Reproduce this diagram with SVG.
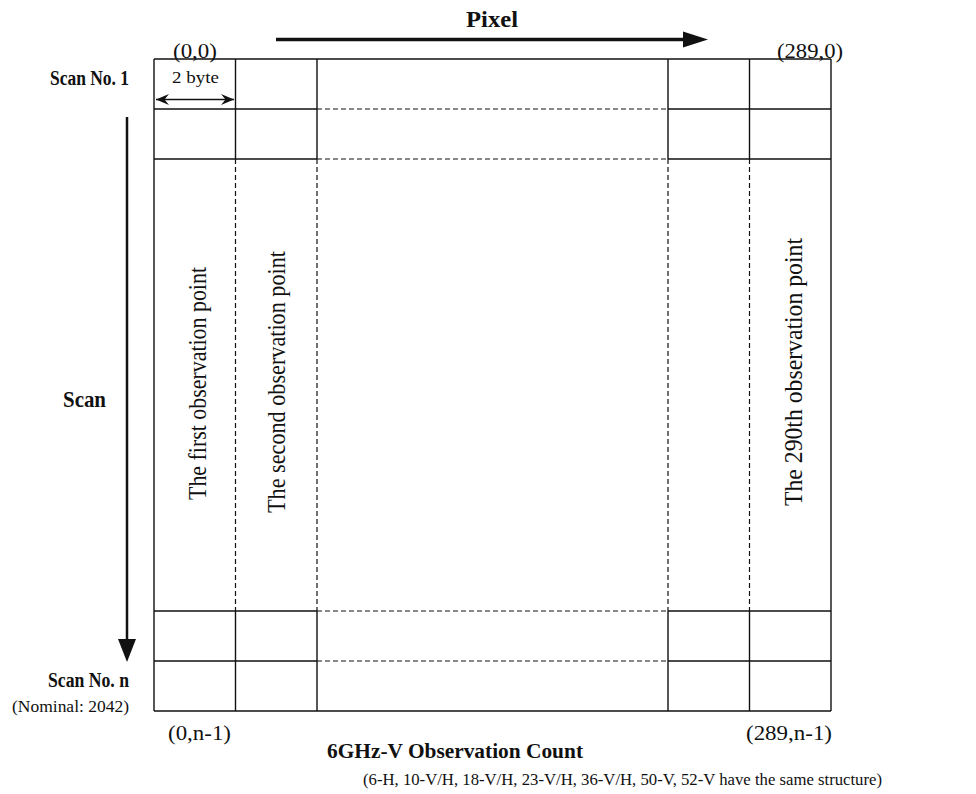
<svg xmlns="http://www.w3.org/2000/svg" width="976" height="794" viewBox="0 0 976 794">
<style>
.s{stroke:#111;stroke-width:1.4;fill:none}
.d{stroke:#111;stroke-width:1.2;fill:none;stroke-dasharray:5 3}
.t{font-family:"Liberation Serif","Times New Roman",serif;fill:#111}
.b{font-weight:bold}
</style>
<defs>
<marker id="barb" viewBox="-14 -6 15 12" refX="0" refY="0" markerWidth="15" markerHeight="12" markerUnits="userSpaceOnUse" orient="auto-start-reverse">
<path d="M0,0 L-13,-5.5 L-8.5,0 L-13,5.5 Z" fill="#111"/>
</marker>
</defs>
<rect width="976" height="794" fill="#fff"/>
<g id="grid">
<line class="s" x1="154" y1="59" x2="831" y2="59"/>
<line class="s" x1="154" y1="711" x2="831" y2="711"/>
<line class="s" x1="154" y1="59" x2="154" y2="711"/>
<line class="s" x1="831" y1="59" x2="831" y2="711"/>
<path class="s" d="M154,109H317M668,109H831M154,159H317M668,159H831M154,611H317M668,611H831M154,661H317M668,661H831"/>
<path class="d" d="M317,109H668M317,159H668M317,611H668M317,661H668"/>
<path class="s" d="M235.5,59V159M317,59V159M668,59V159M749.5,59V159M235.5,611V711M317,611V711M668,611V711M749.5,611V711"/>
<path class="d" d="M235.5,159V611M317,159V611M668,159V611M749.5,159V611"/>
</g>
<g id="connectors">
<line x1="276" y1="39.5" x2="686" y2="39.5" stroke="#111" stroke-width="3.5"/>
<path d="M683,31.5 L708,39.5 L683,47.5 Z" fill="#111"/>
<line x1="127" y1="117" x2="127" y2="642" stroke="#111" stroke-width="2.5"/>
<path d="M118,639 L136,639 L127,662 Z" fill="#111"/>
<line x1="156" y1="99.5" x2="234" y2="99.5" stroke="#111" stroke-width="1.5" marker-start="url(#barb)" marker-end="url(#barb)"/>
</g>
<g id="labels">
<text class="t b" x="466" y="27" font-size="23" textLength="52" lengthAdjust="spacingAndGlyphs">Pixel</text>
<text class="t" x="173" y="58" font-size="21" textLength="44" lengthAdjust="spacingAndGlyphs">(0,0)</text>
<text class="t" x="777" y="58" font-size="21" textLength="66" lengthAdjust="spacingAndGlyphs">(289,0)</text>
<text class="t b" x="50" y="85" font-size="20" textLength="79" lengthAdjust="spacingAndGlyphs">Scan No. 1</text>
<text class="t" x="172" y="83" font-size="17.5" textLength="47" lengthAdjust="spacingAndGlyphs">2 byte</text>
<text class="t b" x="63" y="407" font-size="24" textLength="43" lengthAdjust="spacingAndGlyphs">Scan</text>
<text class="t b" x="48" y="687" font-size="20" textLength="81" lengthAdjust="spacingAndGlyphs">Scan No. n</text>
<text class="t" x="12" y="712" font-size="16.5" textLength="117" lengthAdjust="spacingAndGlyphs">(Nominal: 2042)</text>
<text class="t" x="168" y="740" font-size="21" textLength="63" lengthAdjust="spacingAndGlyphs">(0,n-1)</text>
<text class="t" x="746" y="740" font-size="21" textLength="86" lengthAdjust="spacingAndGlyphs">(289,n-1)</text>
<text class="t b" x="327" y="758" font-size="22" textLength="256" lengthAdjust="spacingAndGlyphs">6GHz-V Observation Count</text>
<text class="t" x="363" y="785" font-size="16.5" textLength="519" lengthAdjust="spacingAndGlyphs">(6-H, 10-V/H, 18-V/H, 23-V/H, 36-V/H, 50-V, 52-V have the same structure)</text>
</g>
<g id="col1"><text class="t" transform="translate(206,500) rotate(-90)" font-size="25.5" textLength="233" lengthAdjust="spacingAndGlyphs">The first observation point</text></g>
<g id="col2"><text class="t" transform="translate(285,513) rotate(-90)" font-size="25.5" textLength="262" lengthAdjust="spacingAndGlyphs">The second observation point</text></g>
<g id="col290"><text class="t" transform="translate(801.5,506) rotate(-90)" font-size="25.5" textLength="268" lengthAdjust="spacingAndGlyphs">The 290th observation point</text></g>
</svg>
